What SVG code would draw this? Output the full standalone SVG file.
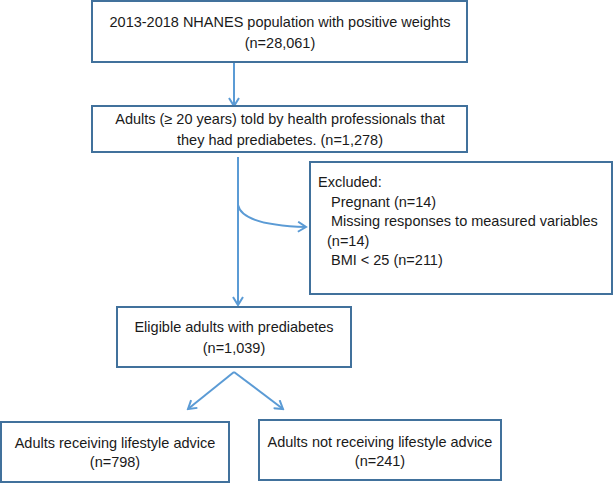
<svg xmlns="http://www.w3.org/2000/svg" width="614" height="483" viewBox="0 0 614 483">
<defs>
<style>
.box{fill:#fff;stroke:#41719C;stroke-width:2}
.t{font-family:"Liberation Sans",Arial,sans-serif;font-size:14.5px;fill:#1a1a1a}
.c{text-anchor:middle}
.ln{fill:none;stroke:#5B9BD5;stroke-width:2}
</style>
<marker id="ah" markerWidth="12" markerHeight="12" refX="10" refY="6" orient="auto" markerUnits="userSpaceOnUse">
<path d="M2,1 L10,6 L2,11" fill="none" stroke="#5B9BD5" stroke-width="2"/>
</marker>
</defs>
<rect width="614" height="483" fill="#fff"/>
<g id="connectors">
<line class="ln" x1="234" y1="62" x2="234" y2="106" marker-end="url(#ah)"/>
<line class="ln" x1="238" y1="157" x2="238" y2="305" marker-end="url(#ah)"/>
<path class="ln" d="M238,205 Q242,225 306,227" marker-end="url(#ah)"/>
<line class="ln" x1="234" y1="372" x2="188" y2="409" marker-end="url(#ah)"/>
<line class="ln" x1="234" y1="372" x2="283" y2="409" marker-end="url(#ah)"/>
</g>
<g id="n1">
<rect class="box" x="92" y="1" width="375" height="61"/>
<text class="t c" x="280" y="27">2013-2018 NHANES population with positive weights</text>
<text class="t c" x="280" y="48">(n=28,061)</text>
</g>
<g id="n2">
<rect class="box" x="92" y="106" width="375" height="46"/>
<text class="t c" x="280" y="124">Adults (≥ 20 years) told by health professionals that</text>
<text class="t c" x="280" y="145">they had prediabetes. (n=1,278)</text>
</g>
<g id="n3">
<rect class="box" x="310" y="162" width="302" height="132"/>
<text class="t" x="318" y="187">Excluded:</text>
<text class="t" x="331" y="207">Pregnant (n=14)</text>
<text class="t" x="331" y="226">Missing responses to measured variables</text>
<text class="t" x="327" y="246">(n=14)</text>
<text class="t" x="331" y="265">BMI &lt; 25 (n=211)</text>
</g>
<g id="n4">
<rect class="box" x="117" y="307" width="234" height="60"/>
<text class="t c" x="234" y="332">Eligible adults with prediabetes</text>
<text class="t c" x="234" y="353">(n=1,039)</text>
</g>
<g id="n5">
<rect class="box" x="1" y="422" width="228" height="60"/>
<text class="t c" x="115" y="448">Adults receiving lifestyle advice</text>
<text class="t c" x="115" y="467">(n=798)</text>
</g>
<g id="n6">
<rect class="box" x="259" y="420" width="242" height="60"/>
<text class="t c" x="380" y="447">Adults not receiving lifestyle advice</text>
<text class="t c" x="380" y="466">(n=241)</text>
</g>
</svg>
